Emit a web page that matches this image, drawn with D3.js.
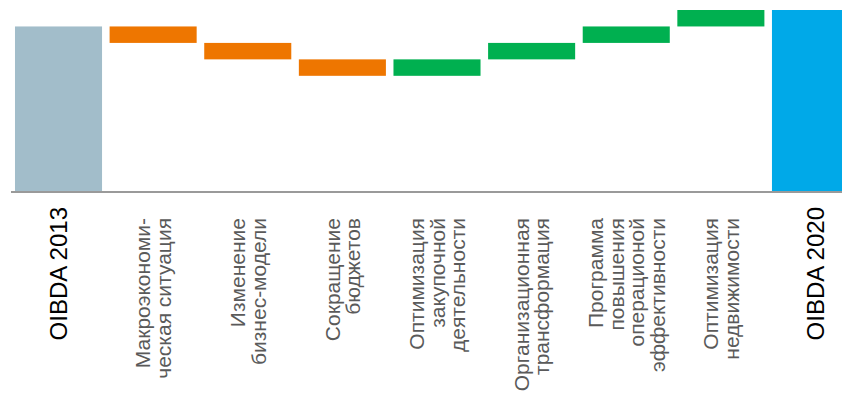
<!DOCTYPE html>
<html>
<head>
<meta charset="utf-8">
<script src="https://cdn.jsdelivr.net/npm/d3@7"></script>
<style>
  html, body { margin: 0; padding: 0; background: #fff; overflow: hidden; }
  svg { display: block; }
  text { font-family: "Liberation Sans", Arial, sans-serif; }
</style>
</head>
<body>
<svg id="chart" width="842" height="393"></svg>
<script>
// Waterfall: OIBDA 2013 -> drivers -> OIBDA 2020
const categories = [
  "OIBDA 2013",
  "Макроэкономи-\nческая ситуация",
  "Изменение\nбизнес-модели",
  "Сокращение\nбюджетов",
  "Оптимизация\nзакупочной\nдеятельности",
  "Организационная\nтрансформация",
  "Программа\nповышения\nоперационой\nэффективности",
  "Оптимизация\nнедвижимости",
  "OIBDA 2020"
];
const values = [10, -1, -1, -1, 1, 1, 1, 1, 11];
const kinds  = ["total", "delta", "delta", "delta", "delta", "delta", "delta", "delta", "total"];

const colors = {
  start: "#A2BDCA",
  down: "#EE7600",
  up: "#00B050",
  end: "#00A9E8"
};

// running start/end for each step
let run = 0;
const bars = categories.map((c, i) => {
  let y0, y1, fill;
  if (kinds[i] === "total") {
    y0 = 0; y1 = values[i]; run = values[i];
    fill = i === 0 ? colors.start : colors.end;
  } else {
    y0 = run; y1 = run + values[i]; run = y1;
    fill = values[i] < 0 ? colors.down : colors.up;
  }
  return { cat: c, lo: Math.min(y0, y1), hi: Math.max(y0, y1), fill, total: kinds[i] === "total" };
});

const svg = d3.select("#chart");

const x = d3.scaleBand()
  .domain(categories)
  .range([11.2, 862.8])
  .paddingInner(0.08)
  .paddingOuter(0.04);

const y = d3.scaleLinear()
  .domain([0, d3.max(bars, d => d.hi)])
  .range([191, 10]);

svg.append("g")
  .selectAll("rect")
  .data(bars)
  .join("rect")
  .attr("x", d => x(d.cat))
  .attr("width", x.bandwidth())
  .attr("y", d => y(d.hi))
  .attr("height", d => y(d.lo) - y(d.hi))
  .attr("fill", d => d.fill);

// baseline
svg.append("line")
  .attr("x1", 11).attr("x2", 862.8)
  .attr("y1", 192).attr("y2", 192)
  .attr("stroke", "#9a9a9a")
  .attr("stroke-width", 2);

// rotated category labels
const labels = svg.append("g")
  .selectAll("text")
  .data(bars)
  .join("text")
  .attr("text-anchor", "end")
  .attr("fill", d => d.total ? "#000" : "#5a5a5a")
  .attr("font-size", d => d.total ? 24 : 21)
  .attr("transform", d => {
    const cx = x(d.cat) + x.bandwidth() / 2;
    const top = d.total ? 207 : 218;
    return `translate(${cx},${top}) rotate(-90)`;
  });

labels.each(function(d) {
  const lines = d.cat.split("\n");
  const fs = d.total ? 24 : 21;
  const lh = 20.5;
  const n = lines.length;
  d3.select(this).selectAll("tspan")
    .data(lines)
    .join("tspan")
    .attr("x", 0)
    .attr("y", (t, i) => (i - (n - 1) / 2) * lh + 0.36 * fs)
    .text(t => t);
});
</script>
</body>
</html>
